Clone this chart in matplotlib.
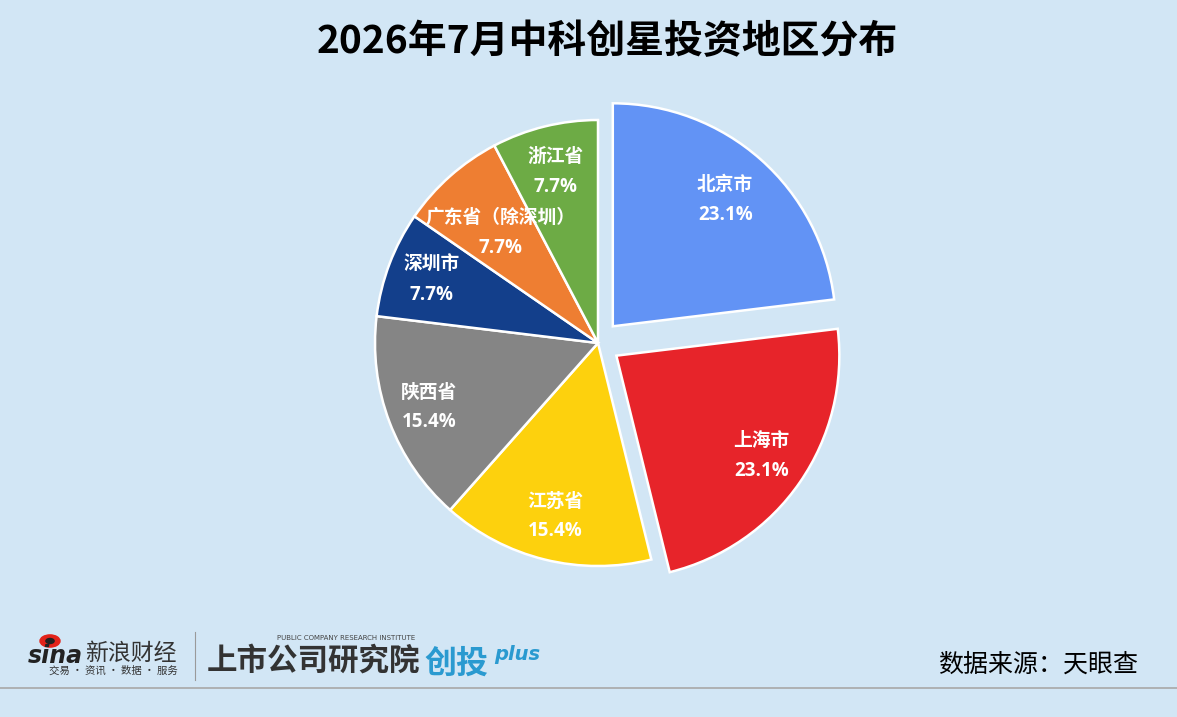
import matplotlib.pyplot as plt
import numpy as np

plt.rcParams['font.family'] = ['Noto Sans CJK SC', 'DejaVu Sans']

# data
regions = ['北京市', '上海市', '江苏省', '陕西省', '深圳市', '广东省（除深圳）', '浙江省']
shares = [23.1, 23.1, 15.4, 15.4, 7.7, 7.7, 7.7]
pct_labels = ['23.1%', '23.1%', '15.4%', '15.4%', '7.7%', '7.7%', '7.7%']
colors = ['#6293F5', '#E7242A', '#FDD10D', '#858585', '#133F8B', '#EE7E32', '#6DAB45']
explode = [0.1, 0.1, 0, 0, 0, 0, 0]
label_r = [0.76, 0.79, 0.80, 0.81, 0.80, 0.66, 0.79]

bg = '#D2E6F5'
W, H = 1177, 717

fig = plt.figure(figsize=(W / 100, H / 100), dpi=100, facecolor=bg)

# pie axes: center at (598, 343) px, radius ~223 px
cx, cy, r = 598, 343, 223
box = 2.4 * r
ax = fig.add_axes([(cx - box / 2) / W, 1 - (cy + box / 2) / H, box / W, box / H])
ax.set_facecolor(bg)
wedges, _ = ax.pie(shares, colors=colors, explode=explode, startangle=90,
                   counterclock=False, radius=1,
                   wedgeprops=dict(edgecolor='white', linewidth=1.8))
ax.set_xlim(-1.2, 1.2)
ax.set_ylim(-1.2, 1.2)
ax.set_aspect('equal')
ax.axis('off')

for w, name, pct, d, ex in zip(wedges, regions, pct_labels, label_r, explode):
    mid = np.deg2rad((w.theta1 + w.theta2) / 2)
    ox, oy = ex * np.cos(mid), ex * np.sin(mid)
    x, y = ox + d * np.cos(mid), oy + d * np.sin(mid)
    ax.text(x, y + 0.068, name, ha='center', va='center', color='white',
            fontsize=13.5, fontweight='bold')
    ax.text(x, y - 0.068, pct, ha='center', va='center', color='white',
            fontsize=13.5, fontweight='bold', family=['Open Sans', 'DejaVu Sans'])

# title
fig.text(607 / W, 1 - 42 / H, '2026年7月中科创星投资地区分布', ha='center', va='center',
         fontsize=28, fontweight='bold', color='black')

# footer
fig.add_artist(plt.Line2D([0, 1], [1 - 688 / H, 1 - 688 / H], color='#A8A8A8', lw=1.2))
fig.text(1138 / W, 1 - 665 / H, '数据来源：天眼查', ha='right', va='center',
         fontsize=18, color='black')

# sina logo
fig.add_artist(plt.Circle((50 / W, 1 - 641 / H), 0.0085, color='#E2231A',
                          transform=fig.transFigure))
fig.add_artist(plt.Circle((50 / W, 1 - 641 / H), 0.0035, color='#222222',
                          transform=fig.transFigure))
fig.text(28 / W, 1 - 656 / H, 'sina', ha='left', va='center', fontsize=17,
         fontweight='bold', style='italic', color='#222222', family='DejaVu Sans')
fig.text(85 / W, 1 - 653 / H, '新浪财经', ha='left', va='center', fontsize=16.5,
         color='#333333')
fig.text(49 / W, 1 - 671 / H, '交易 · 资讯 · 数据 · 服务', ha='left', va='center',
         fontsize=7.5, color='#333333')
fig.add_artist(plt.Line2D([195 / W, 195 / W], [1 - 632 / H, 1 - 680 / H],
                          color='#9A9A9A', lw=0.8))

# research institute logo
fig.text(277 / W, 1 - 638 / H, 'PUBLIC COMPANY RESEARCH INSTITUTE', ha='left',
         va='center', fontsize=5, color='#444444', family='DejaVu Sans')
fig.text(207 / W, 1 - 661 / H, '上市公司研究院', ha='left', va='center', fontsize=22,
         fontweight='bold', style='italic', color='#333333')
fig.text(424 / W, 1 - 664 / H, '创投', ha='left', va='center', fontsize=23,
         fontweight='bold', style='italic', color='#2A9AD0')
fig.text(494 / W, 1 - 655 / H, 'plus', ha='left', va='center', fontsize=14,
         fontweight='bold', style='italic', color='#2A9AD0', family='DejaVu Sans')

fig.savefig('out.png', dpi=100, facecolor=bg)
